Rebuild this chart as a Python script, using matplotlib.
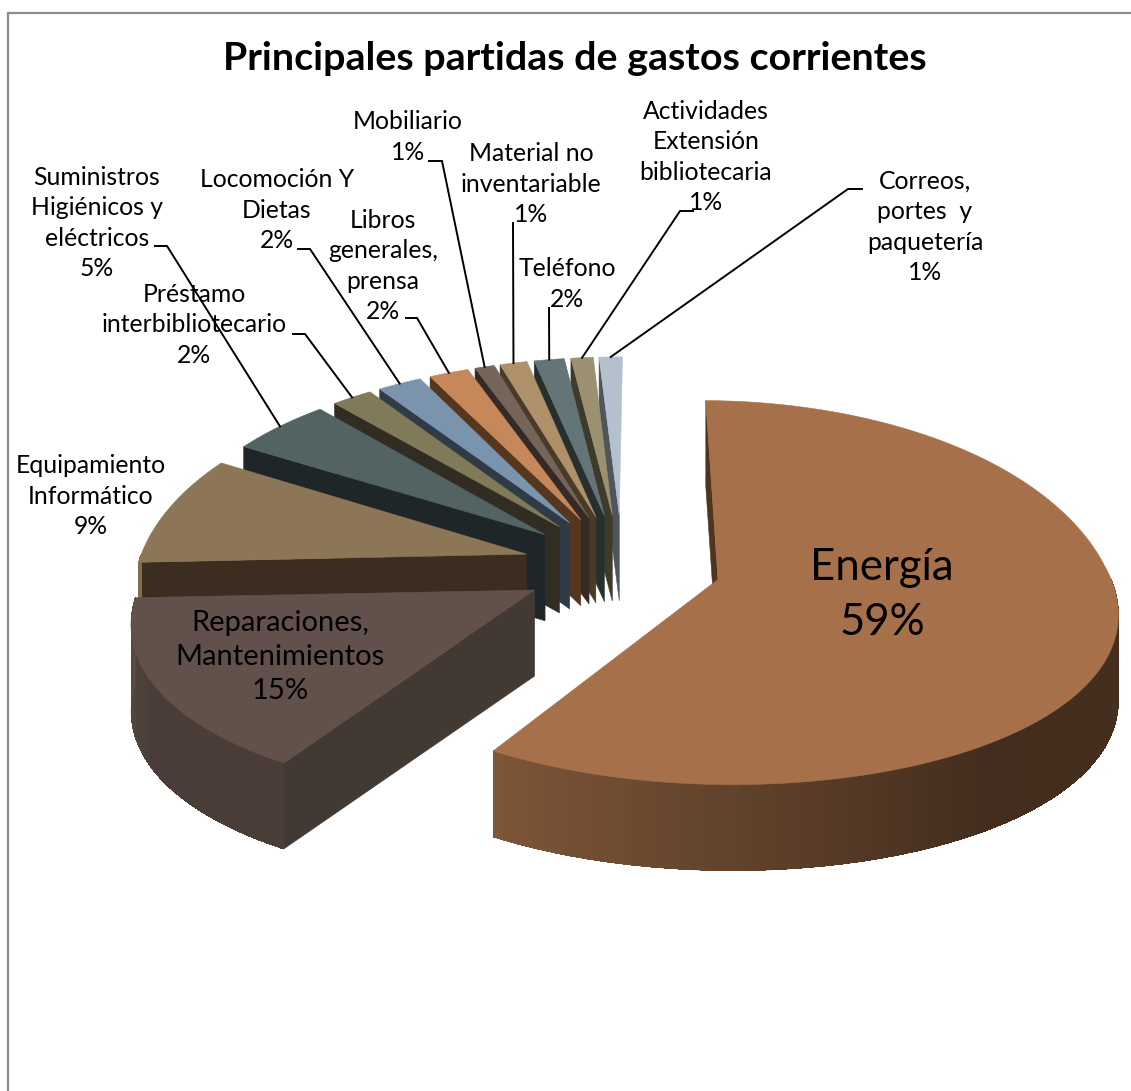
import numpy as np
import matplotlib
matplotlib.use("Agg")
import matplotlib.pyplot as plt
from matplotlib.patches import Polygon
from matplotlib.collections import PolyCollection
from matplotlib.colors import to_rgb

# ---- data, clockwise from 12 o'clock ----
names = ["Energía", "Reparaciones,\nMantenimientos", "Equipamiento\nInformático",
         "Suministros\nHigiénicos y\neléctricos", "Préstamo\ninterbibliotecario",
         "Locomoción Y\nDietas", "Libros\ngenerales,\nprensa", "Mobiliario",
         "Material no\ninventariable", "Teléfono", "Actividades\nExtensión\nbibliotecaria",
         "Correos,\nportes  y\npaquetería"]
values = [59.1, 15.49, 8.6, 4.8, 2.0, 2.2, 2.0, 1.0, 1.4, 1.55, 1.15, 1.2]
top_colors = ["#A6714A", "#62514A", "#8D7657", "#536262", "#807A59", "#7B94AE",
              "#C6875A", "#75645A", "#AF9069", "#647578", "#9B9070", "#B4C0CE"]
side_colors = ["#4F3520", "#433933", "#3B2E20", "#1F2629", "#322D22", "#2F3B47",
               "#55361F", "#352A25", "#4A3A28", "#27302F", "#3F3B2B", "#4F545D"]
rim_angles = [90, 145, 212, 240, 270]
rim_shades = [0.42, 0.40, 0.76, 0.75, 0.92]

title = "Principales partidas de gastos corrientes"

# ---- layout ----
W, H = 1131, 1091
CX, CY = 622, 566
START = 0.5
RADIUS, EXPLODE = 393, 100
TILT, DEPTH = 0.475, 86
PERSP_X, PERSP_Y, V0 = 0.0004, 0.00022, 27
BACK_LIFT = 8
FONT = "Lato"
LABEL_SIZE = 17.8
label_xy = [(882, 595), (280, 657), (91, 496), (97, 223), (194, 325), (277, 210),
            (383, 266), (408, 137), (531, 184), (567, 284), (706, 157), (925, 227)]
label_size = [31.5, 21] + [LABEL_SIZE] * 10
leader_path = [None, None, None,
               [(155, 246), (167, 246)], [(293, 334), (305, 334)], [(298, 249), (310, 249)],
               [(406, 318), (417, 318)], [(429, 161), (442, 161)], [(513, 223)],
               [(549, 308)], [(693, 211), (680, 211)], [(862, 189), (848, 189)]]

fig = plt.figure(figsize=(W / 100, H / 100), dpi=100)
ax = fig.add_axes([0, 0, 1, 1])
ax.set_xlim(0, W)
ax.set_ylim(H, 0)
ax.axis("off")


def project(u, v, z=0.0):
    lift = BACK_LIFT * np.sin(np.pi * np.clip(-v / 500, 0, 1))
    return (CX + u * (1 + PERSP_X * (v - V0)),
            CY + v * TILT * (1 + PERSP_Y * v) + z - lift)


vals = np.array(values, float)
edges = START + np.concatenate([[0], np.cumsum(vals)]) / vals.sum() * 360.0


def apex(i):
    m = np.radians((edges[i] + edges[i + 1]) / 2)
    return EXPLODE * np.sin(m), -EXPLODE * np.cos(m)


def rim(i, deg, z=0.0):
    au, av = apex(i)
    t = np.radians(deg)
    return project(au + RADIUS * np.sin(t), av - RADIUS * np.cos(t), z)


def poly(points, color, zorder):
    ax.add_patch(Polygon(points, closed=True, facecolor=color, edgecolor=color,
                         linewidth=0.4, zorder=zorder))


# back to front: last slice first
for i in range(len(vals) - 1, -1, -1):
    a0, a1 = edges[i], edges[i + 1]
    z = 2 + (len(vals) - i) * 0.1 if i else 3.5
    ax_apex = project(*apex(i))
    ax_apex_low = project(*apex(i), DEPTH)
    # cut face at the slice's start
    poly([ax_apex, rim(i, a0), rim(i, a0, DEPTH), ax_apex_low], side_colors[i], z)
    # outer wall: soft-edged silhouette, then shaded strips
    lo, hi = max(a0, 90), min(a1, 270)
    if hi > lo:
        ts = np.linspace(lo, hi, int((hi - lo) / 1.5) + 2)
        base = np.array(to_rgb(top_colors[i]))
        shade = [np.interp((p + q) / 2, rim_angles, rim_shades) for p, q in zip(ts[:-1], ts[1:])]
        poly([rim(i, t) for t in ts] + [rim(i, t, DEPTH) for t in ts[::-1]],
             base * float(np.mean(shade)), z)
        quads = [[rim(i, p), rim(i, q), rim(i, q, DEPTH), rim(i, p, DEPTH)]
                 for p, q in zip(ts[:-1], ts[1:])]
        ax.add_collection(PolyCollection(quads, facecolors=[base * s for s in shade],
                                         edgecolors="none", linewidths=0,
                                         antialiaseds=False, zorder=z))
    # top surface
    ts = np.linspace(a0, a1, max(int((a1 - a0) / 1.0), 2) + 1)
    poly([ax_apex] + [rim(i, t) for t in ts], top_colors[i], z)

# leader lines end on the middle of each slice's rim
for i, path in enumerate(leader_path):
    if path is None:
        continue
    end = rim(i, (edges[i] + edges[i + 1]) / 2)
    pts = list(path) + [end]
    ax.plot([p[0] for p in pts], [p[1] for p in pts], color="black", lw=1.4,
            zorder=6, solid_joinstyle="miter")

# labels
for i, name in enumerate(names):
    ax.text(*label_xy[i], f"{name}\n{round(values[i])}%", ha="center", va="center",
            family=FONT, fontsize=label_size[i], color="black", linespacing=1.4, zorder=7)

ax.text(575, 58, title, ha="center", va="center", family=FONT, fontweight="bold",
        fontsize=28.4, color="black", zorder=7)

# chart frame
ax.plot([7.5, 7.5, W], [H, 12.5, 12.5], color="#8C8C8C", lw=1.6, zorder=8,
        solid_joinstyle="miter")

fig.savefig("out.png", dpi=100, facecolor="white")
